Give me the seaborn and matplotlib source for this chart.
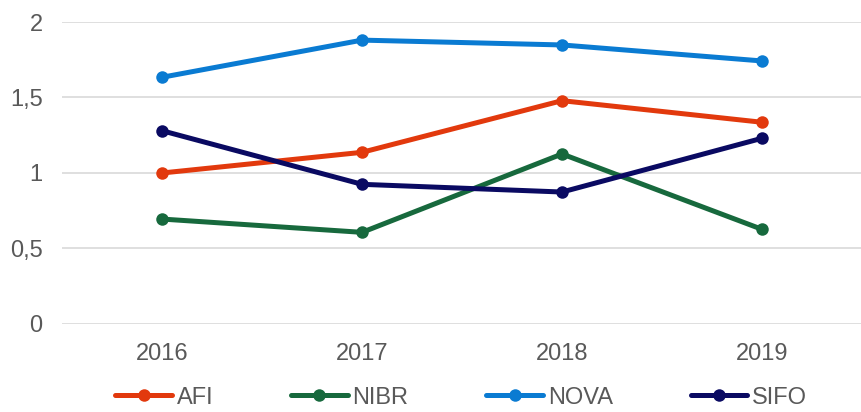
import numpy as np
import pandas as pd
import seaborn as sns
from matplotlib import pyplot as plt

sns.set_theme(style="white")
plt.rcParams['font.family'] = ['Liberation Sans', 'DejaVu Sans']

years = ['2016', '2017', '2018', '2019']
afi = [1.00, 1.137, 1.479, 1.336]
nibr = [0.695, 0.607, 1.126, 0.627]
nova = [1.634, 1.88, 1.848, 1.742]
sifo = [1.28, 0.925, 0.874, 1.23]

series = {'AFI': afi, 'NIBR': nibr, 'NOVA': nova, 'SIFO': sifo}
palette = {'AFI': '#E2390D', 'NIBR': '#17693D', 'NOVA': '#0A7BD2', 'SIFO': '#0A0A62'}

df = pd.DataFrame([(y, name, v) for name, vals in series.items() for y, v in zip(years, vals)],
                  columns=['year', 'org', 'value'])

fig = plt.figure(figsize=(8.62, 4.12), dpi=100)
ax = fig.add_axes([0.072, 0.2136, 0.928, 0.733])

sns.lineplot(data=df, x='year', y='value', hue='org', palette=palette, marker='o',
             markersize=9, markeredgewidth=0, linewidth=3.6, ax=ax, legend=False)

ax.set_xlim(-0.5, 3.5)
ax.set_ylim(0, 2)
ax.set_yticks([0, 0.5, 1, 1.5, 2])
ax.set_yticklabels(['0', '0,5', '1', '1,5', '2'])
ax.yaxis.grid(True, color='#D9D9D9', linewidth=1.2)
ax.set_axisbelow(True)
for s in ax.spines.values():
    s.set_visible(False)
ax.tick_params(axis='both', length=0, labelsize=17, labelcolor='#595959')
ax.tick_params(axis='x', pad=14)
ax.tick_params(axis='y', pad=14)
ax.set(xlabel='', ylabel='')

handles = [plt.Line2D([], [], color=palette[k], linewidth=3.6, marker='o', markersize=9,
                      markeredgewidth=0) for k in series]
fig.legend(handles, list(series), loc='center', bbox_to_anchor=(0.535, 0.035), ncol=4,
           frameon=False, fontsize=17, labelcolor='#595959', handlelength=2.4,
           handletextpad=0.2, columnspacing=3.3)

fig.savefig('out.png', dpi=100)
